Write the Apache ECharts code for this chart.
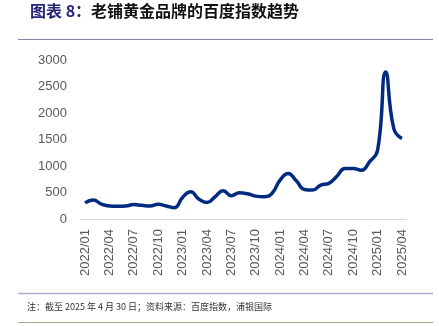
<!DOCTYPE html>
<html>
<head>
<meta charset="utf-8">
<script src="https://cdn.jsdelivr.net/npm/echarts@6/dist/echarts.min.js"></script>
<style>
html,body{margin:0;padding:0;background:#fff;}
#chart{width:439px;height:326px;}
</style>
</head>
<body>
<div id="chart"></div>
<script>
// Monthly Baidu search index for the brand, 2022/01 – 2025/04
const months = [
  '2022/01','2022/02','2022/03','2022/04','2022/05','2022/06','2022/07','2022/08','2022/09','2022/10','2022/11','2022/12',
  '2023/01','2023/02','2023/03','2023/04','2023/05','2023/06','2023/07','2023/08','2023/09','2023/10','2023/11','2023/12',
  '2024/01','2024/02','2024/03','2024/04','2024/05','2024/06','2024/07','2024/08','2024/09','2024/10','2024/11','2024/12',
  '2025/01','2025/02','2025/03','2025/04'
];
const baiduIndex = [
  305, 360, 282, 244, 240, 245, 272, 258, 245, 276, 245, 213,
  408, 513, 376, 313, 420, 533, 439, 495, 476, 432, 420, 483,
  733, 860, 720, 558, 545, 639, 671, 808, 953, 953, 921, 1077,
  1297, 2775, 1705, 1517
];
const yTicks = [0, 500, 1000, 1500, 2000, 2500, 3000];

const chart = echarts.init(document.getElementById('chart'), null, {renderer: 'canvas'});
const fontFam = '"Liberation Sans", Arial, sans-serif';
chart.setOption({
  animation: false,
  backgroundColor: '#ffffff',
  grid: {left: 81, right: 33, top: 60, bottom: 107},
  xAxis: {
    type: 'category',
    data: months,
    boundaryGap: true,
    axisLine: {lineStyle: {color: '#d9d9d9', width: 1}},
    axisTick: {show: false},
    axisLabel: {
      interval: 2,
      rotate: 90,
      margin: 10,
      color: '#595959',
      fontSize: 13,
      fontFamily: fontFam
    },
    splitLine: {show: false}
  },
  yAxis: {
    type: 'value',
    min: yTicks[0],
    max: yTicks[yTicks.length - 1],
    interval: 500,
    axisLine: {show: false},
    axisTick: {show: false},
    splitLine: {show: false},
    axisLabel: {
      color: '#595959', fontSize: 13, fontFamily: fontFam, margin: 14,
      formatter: (v) => String(v)
    }
  },
  series: [{
    type: 'line',
    data: baiduIndex,
    smooth: 0.5,
    symbol: 'none',
    lineStyle: {color: '#002b7f', width: 3.5}
  }],
  graphic: [
    {
      type: 'text', left: 30, top: 3,
      style: {
        text: '{a|图表 8：}{b|老铺黄金品牌的百度指数趋势}',
        rich: {
          a: {fill: '#26267a', fontSize: 16, fontWeight: 'bold', fontFamily: '"Noto Sans CJK SC", sans-serif'},
          b: {fill: '#111111', fontSize: 16, fontWeight: 'bold', fontFamily: '"Noto Sans CJK SC", sans-serif'}
        }
      }
    },
    {type: 'line', shape: {x1: 18, y1: 39.5, x2: 433, y2: 39.5}, style: {stroke: '#8585b0', lineWidth: 1}},
    {type: 'line', shape: {x1: 18, y1: 293.5, x2: 433, y2: 293.5}, style: {stroke: '#b2aed2', lineWidth: 1.5}},
    {
      type: 'text', left: 27, top: 302,
      style: {
        text: '注：截至 2025 年 4 月 30 日；资料来源：百度指数，浦银国际',
        fill: '#333333', fontSize: 9, fontFamily: '"Noto Sans CJK SC", sans-serif'
      }
    },
    {type: 'line', shape: {x1: 18, y1: 322.5, x2: 433, y2: 322.5}, style: {stroke: '#a9a988', lineWidth: 1}}
  ]
});
</script>
</body>
</html>
